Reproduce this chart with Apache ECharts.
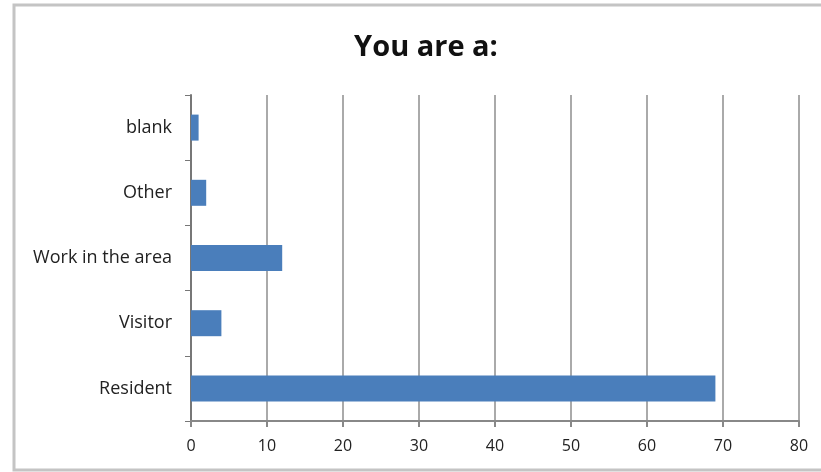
<!DOCTYPE html>
<html><head><meta charset="utf-8">
<script src="https://cdn.jsdelivr.net/npm/echarts@6/dist/echarts.min.js"></script>
<style>html,body{margin:0;padding:0;background:#fff}#c{width:821px;height:472px}</style>
</head><body><div id="c"></div>
<script>
const categories = ['Resident', 'Visitor', 'Work in the area', 'Other', 'blank'];
const values = [69, 4, 12, 2, 1];
const xTicks = { min: 0, max: 80, interval: 10 };

const chart = echarts.init(document.getElementById('c'));
chart.setOption({
  backgroundColor: '#fff',
  animation: false,
  title: {
    text: 'You are a:', left: 421, top: 28, textAlign: 'center',
    textStyle: { fontFamily: 'Open Sans', fontWeight: 'bold', fontSize: 29, color: '#111' }
  },
  graphic: [{
    type: 'rect', shape: { x: 14, y: 5, width: 830, height: 465 },
    style: { fill: null, stroke: '#c4c4c4', lineWidth: 3 }, silent: true
  }],
  grid: { left: 191, right: 22, top: 95, bottom: 51 },
  xAxis: {
    type: 'value', min: xTicks.min, max: xTicks.max, interval: xTicks.interval,
    axisLine: { show: true, lineStyle: { color: '#888', width: 2 } },
    axisTick: { show: true, length: 6, lineStyle: { color: '#888', width: 2 } },
    axisLabel: { fontFamily: 'Open Sans', fontSize: 16, color: '#222', margin: 17 },
    splitLine: { show: true, lineStyle: { color: '#aaa', width: 2 } }
  },
  yAxis: {
    type: 'category', data: categories,
    axisLine: { show: true, lineStyle: { color: '#777', width: 2 } },
    axisTick: { show: true, length: 6, lineStyle: { color: '#777', width: 1 } },
    axisLabel: { fontFamily: 'Open Sans', fontSize: 18, color: '#222', margin: 19 }
  },
  series: [{
    type: 'bar', data: values, barWidth: 26,
    itemStyle: { color: '#4a7ebb' }
  }]
});
</script></body></html>
